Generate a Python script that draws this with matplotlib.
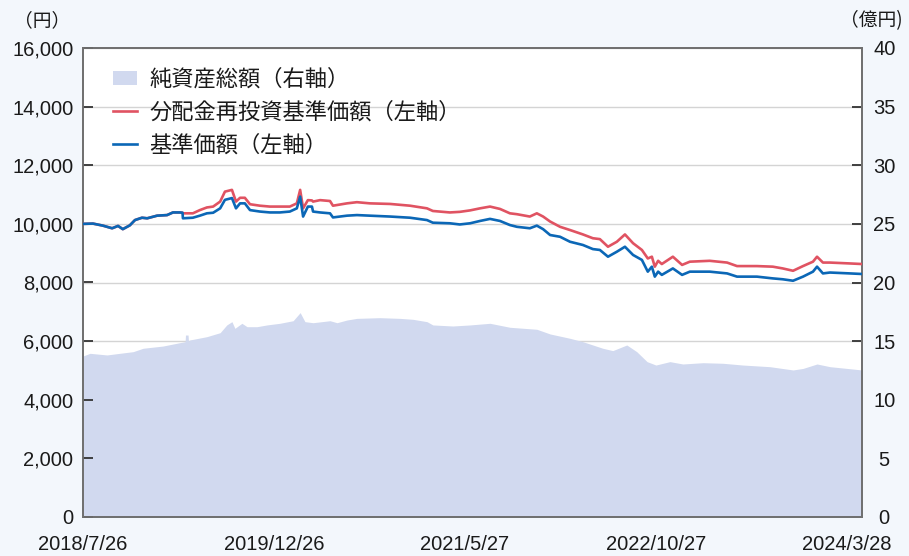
import matplotlib
matplotlib.use("Agg")
import matplotlib.pyplot as plt
import pandas as pd
from matplotlib.patches import Patch
from matplotlib.lines import Line2D
from matplotlib.ticker import FuncFormatter

# ---------------- data ----------------
nav_dates = ["2018-07-26","2018-08-22","2018-09-18","2018-10-13","2018-10-29","2018-11-11","2018-11-30","2018-12-14",
             "2019-01-02","2019-01-16","2019-02-12","2019-03-11","2019-03-27","2019-04-15","2019-04-22","2019-04-23",
             "2019-05-20","2019-06-08","2019-06-27","2019-07-14","2019-08-02","2019-08-15","2019-09-03","2019-09-14",
             "2019-09-25","2019-10-08","2019-10-22","2019-11-18","2019-12-15","2020-01-11","2020-02-07","2020-02-26",
             "2020-03-06","2020-03-14","2020-03-27","2020-04-07","2020-04-10","2020-04-29","2020-05-26","2020-06-03",
             "2020-07-11","2020-08-07","2020-09-11","2020-11-05","2020-12-29","2021-02-13","2021-03-01","2021-04-16",
             "2021-05-13","2021-06-10","2021-07-07","2021-08-03","2021-08-30","2021-09-26","2021-10-15","2021-11-19",
             "2021-12-08","2021-12-25","2022-01-13","2022-02-09","2022-03-08","2022-04-12","2022-05-09","2022-05-28",
             "2022-06-19","2022-07-13","2022-08-04","2022-08-26","2022-09-19","2022-10-05","2022-10-16","2022-10-24",
             "2022-11-02","2022-11-12","2022-12-12","2023-01-06","2023-01-27","2023-03-22","2023-05-08","2023-06-04",
             "2023-07-28","2023-09-09","2023-10-06","2023-11-03","2023-11-30","2023-12-27","2024-01-07","2024-01-23",
             "2024-02-11","2024-04-05","2024-05-08"]

nav = [10000, 10010, 9940, 9850, 9930, 9820, 9950, 10130,
       10210, 10190, 10280, 10300, 10390, 10390, 10380, 10190,
       10210, 10280, 10360, 10380, 10530, 10820, 10880, 10530,
       10700, 10700, 10470, 10420, 10390, 10390, 10420, 10530,
       10930, 10250, 10590, 10590, 10420, 10390, 10360, 10220,
       10280, 10300, 10280, 10250, 10210, 10130, 10040, 10020,
       9980, 10020, 10100, 10170, 10100, 9960, 9900, 9850,
       9940, 9820, 9620, 9560, 9390, 9280, 9140, 9110,
       8880, 9050, 9220, 8940, 8770, 8370, 8540, 8200,
       8370, 8260, 8480, 8260, 8370, 8370, 8310, 8200,
       8200, 8140, 8110, 8060, 8200, 8370, 8540, 8310,
       8340, 8310, 8290]

nav_reinvested = [10000, 10010, 9940, 9850, 9930, 9820, 9950, 10130,
                  10210, 10190, 10280, 10300, 10390, 10390, 10380, 10360,
                  10360, 10470, 10560, 10590, 10760, 11100, 11160, 10760,
                  10890, 10890, 10670, 10620, 10590, 10590, 10590, 10700,
                  11160, 10530, 10810, 10800, 10760, 10810, 10780, 10620,
                  10700, 10740, 10700, 10680, 10620, 10530, 10440, 10390,
                  10410, 10460, 10530, 10590, 10510, 10360, 10330, 10250,
                  10360, 10250, 10080, 9900, 9790, 9640, 9510, 9480,
                  9220, 9390, 9640, 9340, 9110, 8820, 8880, 8540,
                  8740, 8630, 8880, 8600, 8710, 8740, 8680, 8560,
                  8560, 8540, 8480, 8400, 8560, 8710, 8880, 8680,
                  8680, 8650, 8630]

asset_dates = ["2018-07-26","2018-08-14","2018-09-29","2018-11-03","2018-12-09","2019-01-05","2019-02-28","2019-04-15",
               "2019-04-29","2019-04-30","2019-05-07","2019-05-08","2019-05-12","2019-06-27","2019-08-02","2019-08-20",
               "2019-09-03","2019-09-11","2019-09-30","2019-10-14","2019-11-10","2019-12-07","2020-01-11","2020-02-16",
               "2020-03-06","2020-03-19","2020-04-10","2020-05-26","2020-06-14","2020-07-11","2020-08-07","2020-10-08",
               "2020-12-02","2021-01-06","2021-02-13","2021-03-01","2021-04-24","2021-06-10","2021-08-03","2021-09-26",
               "2021-12-08","2022-01-13","2022-03-08","2022-04-12","2022-06-05","2022-07-02","2022-08-09","2022-09-05",
               "2022-10-03","2022-10-27","2022-12-04","2023-01-08","2023-03-04","2023-04-27","2023-06-20","2023-09-01",
               "2023-11-03","2023-11-30","2024-01-07","2024-02-11","2024-05-08"]

net_assets = [13.73, 13.96, 13.82, 13.96, 14.10, 14.39, 14.58, 14.87,
              14.95, 15.52, 15.52, 15.00, 15.10, 15.38, 15.72, 16.38,
              16.66, 16.09, 16.52, 16.23, 16.23, 16.38, 16.52, 16.74,
              17.43, 16.66, 16.57, 16.74, 16.57, 16.80, 16.94, 17.00,
              16.94, 16.86, 16.66, 16.38, 16.29, 16.38, 16.52, 16.18,
              16.01, 15.61, 15.24, 14.95, 14.39, 14.19, 14.67, 14.10,
              13.25, 12.96, 13.25, 13.05, 13.16, 13.11, 12.96, 12.82,
              12.54, 12.67, 13.05, 12.82, 12.54]

tick_dates = ["2018-07-26", "2019-12-26", "2021-05-27", "2022-10-27", "2024-03-28"]
tick_labels = ["2018/7/26", "2019/12/26", "2021/5/27", "2022/10/27", "2024/3/28"]
left_ticks = [0, 2000, 4000, 6000, 8000, 10000, 12000, 14000, 16000]
right_ticks = [0, 5, 10, 15, 20, 25, 30, 35, 40]
x_start, x_end = "2018-07-26", "2024-05-08"

legend_labels = ["純資産総額（右軸）", "分配金再投資基準価額（左軸）", "基準価額（左軸）"]
left_unit = "（円）"
right_unit = "（億円)"

# ---------------- style ----------------
BG = "#f3f7fc"
AREA = "#d1d9ef"
RED = "#e05362"
BLUE = "#0b67b6"
SPINE = "#707070"
NUMFONT = ["Liberation Sans", "DejaVu Sans"]
CJK = ["Noto Sans CJK JP", "DejaVu Sans"]

plt.rcParams["font.family"] = NUMFONT

nd = pd.to_datetime(nav_dates)
ad = pd.to_datetime(asset_dates)

fig = plt.figure(figsize=(9.09, 5.56), dpi=100, facecolor=BG)
ax = fig.add_axes([83/909, 1-517/556, (862-83)/909, (517-48)/556])  # right axis (億円), area
ax2 = ax.twinx()  # left axis (円), lines

ax.set_facecolor("white")
ax.fill_between(ad, 0, net_assets, color=AREA, lw=0, zorder=2)
ax.set_ylim(0, 40)
ax.set_yticks(right_ticks)
ax.grid(axis="y", color="#d4d4d4", lw=1.0, zorder=0)
ax.set_axisbelow(True)
ax.yaxis.tick_right()
ax.yaxis.set_label_position("right")

ax2.plot(nd, nav_reinvested, color=RED, lw=1.9, zorder=3)
ax2.plot(nd, nav, color=BLUE, lw=1.9, zorder=4)
ax2.set_ylim(0, 16000)
ax2.set_yticks(left_ticks)
ax2.yaxis.set_major_formatter(FuncFormatter(lambda v, p: f"{int(v):,}"))
ax2.yaxis.tick_left()
ax2.yaxis.set_label_position("left")

ax.set_xlim(pd.Timestamp(x_start), pd.Timestamp(x_end))
ax.set_xticks(pd.to_datetime(tick_dates))
ax.set_xticklabels(tick_labels)
ax2.set_xlim(pd.Timestamp(x_start), pd.Timestamp(x_end))

for a in (ax, ax2):
    for s in a.spines.values():
        s.set_color(SPINE)
        s.set_linewidth(1.3)

ax.tick_params(axis="x", direction="in", length=8, width=1, color="#888888",
               labelsize=14.5, pad=13, labelcolor="#1a1a1a")
ax.tick_params(axis="y", direction="in", length=7, width=1.3, color="#333333",
               labelsize=14.5, pad=16, labelcolor="#1a1a1a")
ax2.tick_params(axis="y", direction="in", length=7, width=1.3, color="#333333",
                labelsize=14.5, pad=7, labelcolor="#1a1a1a")
for lbl in ax.get_yticklabels():
    lbl.set_horizontalalignment("center")

# unit labels
fig.text(14/909, 1-21/556, left_unit, family=CJK, fontsize=13.5, ha="left", va="center", color="#1a1a1a")
fig.text(840/909, 1-21/556, right_unit, family=CJK, fontsize=13.5, ha="left", va="center", color="#1a1a1a")

handles = [Patch(facecolor=AREA, edgecolor="none"),
           Line2D([], [], color=RED, lw=1.9),
           Line2D([], [], color=BLUE, lw=1.9)]
leg = ax2.legend(handles, legend_labels, loc="upper left", bbox_to_anchor=(0.038, 0.958),
                 frameon=False, prop={"family": CJK, "size": 16},
                 handlelength=1.1, handleheight=0.6, handletextpad=0.55,
                 labelspacing=0.45, borderaxespad=0, borderpad=0)
for t in leg.get_texts():
    t.set_color("#1a1a1a")

fig.savefig("out.png", dpi=100, facecolor=BG)
